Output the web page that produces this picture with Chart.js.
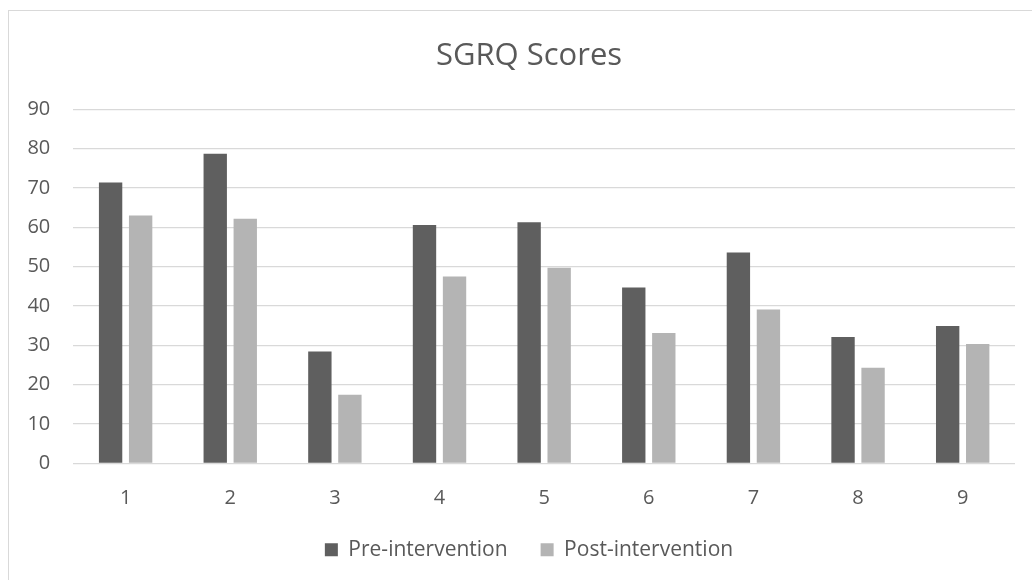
<!DOCTYPE html>
<html>
<head>
<meta charset="utf-8">
<script src="https://cdn.jsdelivr.net/npm/chart.js@4"></script>
<style>
  html, body { margin: 0; padding: 0; background: #fff; overflow: hidden; }
  #moldura { position: absolute; left: 8px; top: 10px; width: 1060px; height: 600px; border: 1px solid #d9d9d9; }
  #area { position: absolute; left: 0; top: 0; width: 1058px; height: 580px; }
</style>
</head>
<body>
<div id="moldura"></div>
<div id="area"><canvas id="myChart"></canvas></div>
<script>
const categorias = ['1', '2', '3', '4', '5', '6', '7', '8', '9'];
const preIntervencao = [71.4, 78.7, 28.4, 60.6, 61.3, 44.7, 53.6, 32.1, 34.9];
const posIntervencao = [63.0, 62.2, 17.4, 47.5, 49.7, 33.1, 39.1, 24.3, 30.3];
const nomesSeries = ['Pre-intervention', 'Post-intervention'];

const corTexto = '#595959';
const corGrade = '#d9d9d9';

let ctx = document.getElementById('myChart').getContext('2d');

new Chart(ctx, {
  type: 'bar',
  data: {
    labels: categorias,
    datasets: [{
      label: nomesSeries[0],
      data: preIntervencao,
      backgroundColor: '#5f5f5f',
      borderWidth: 0
    }, {
      label: nomesSeries[1],
      data: posIntervencao,
      backgroundColor: '#b4b4b4',
      borderWidth: 0
    }]
  },
  options: {
    responsive: true,
    maintainAspectRatio: false,
    animation: false,
    categoryPercentage: 0.574,
    barPercentage: 0.778,
    layout: { padding: { left: 0, right: 0, top: 0, bottom: 9.7 } },
    plugins: {
      title: {
        display: true,
        text: 'SGRQ Scores',
        color: corTexto,
        font: { family: 'Open Sans', size: 31, weight: 'normal' },
        padding: { top: 37.6, bottom: 34.5 }
      },
      legend: {
        position: 'bottom',
        labels: {
          color: corTexto,
          font: { family: 'Open Sans', size: 21 },
          boxWidth: 13,
          boxHeight: 13,
          padding: 33
        }
      },
      tooltip: { enabled: false }
    },
    scales: {
      x: {
        grid: { display: false, drawTicks: false },
        border: { display: false },
        ticks: {
          color: corTexto,
          font: { family: 'Open Sans', size: 20 },
          padding: 23
        },
        afterFit: (scale) => { scale.height = 43; }
      },
      y: {
        min: 0,
        max: 90,
        grid: { color: corGrade, lineWidth: 1.3, drawTicks: false },
        border: { display: false },
        ticks: {
          stepSize: 10,
          color: corTexto,
          font: { family: 'Open Sans', size: 20 },
          padding: 23
        },
        afterFit: (scale) => { scale.width = 73.3; }
      },
      direita: {
        type: 'linear',
        position: 'right',
        grid: { display: false },
        border: { display: false },
        ticks: { display: false },
        afterFit: (scale) => { scale.width = 43; }
      }
    }
  }
});
</script>
</body>
</html>
